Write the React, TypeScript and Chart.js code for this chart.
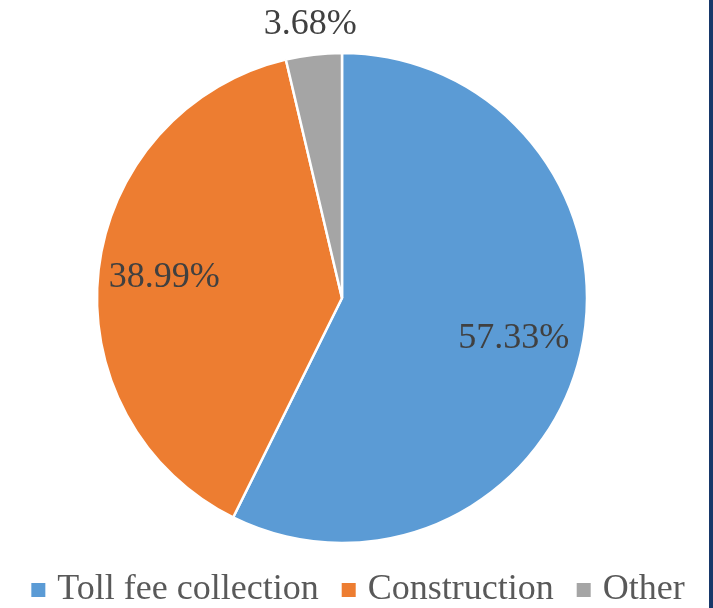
import React, { useEffect, useRef } from "react";
import { Chart, registerables } from "chart.js";

Chart.register(...registerables);

const categories = ["Toll fee collection", "Construction", "Other"];
const shares = [57.33, 38.99, 3.68];
const sliceColors = ["#5b9bd5", "#ed7d31", "#a5a5a5"];
const labelRadius = [0.72, 0.73, 1.125];

const FONT = '36px "Liberation Serif", "Times New Roman", serif';

const pctLabelPlugin = {
  id: "pctLabels",
  afterDatasetsDraw(chart: any) {
    const ctx = chart.ctx;
    const meta = chart.getDatasetMeta(0);
    meta.data.forEach((arc: any, i: number) => {
      const p = arc.getProps(["x", "y", "startAngle", "endAngle", "outerRadius"], true);
      const mid = (p.startAngle + p.endAngle) / 2;
      const r = p.outerRadius * labelRadius[i];
      ctx.save();
      ctx.font = FONT;
      ctx.fillStyle = "#404040";
      ctx.textAlign = "center";
      ctx.textBaseline = "middle";
      ctx.fillText(shares[i].toFixed(2) + "%", p.x + Math.cos(mid) * r, p.y + Math.sin(mid) * r);
      ctx.restore();
    });
  },
};

const legendPlugin = {
  id: "customLegend",
  afterDraw(chart: any) {
    const ctx = chart.ctx;
    ctx.save();
    ctx.font = FONT;
    const box = 14;
    const gap = 12;
    const itemGap = 23;
    const widths = categories.map((c) => ctx.measureText(c).width);
    const total = widths.reduce((a, w) => a + box + gap + w, 0) + itemGap * (categories.length - 1);
    let x = 358 - total / 2;
    categories.forEach((c, i) => {
      ctx.fillStyle = sliceColors[i];
      ctx.fillRect(x, 583, box, box);
      x += box + gap;
      ctx.fillStyle = "#595959";
      ctx.textAlign = "left";
      ctx.textBaseline = "alphabetic";
      ctx.fillText(c, x, 599);
      x += widths[i] + itemGap;
    });
    ctx.restore();
  },
};

export default function App() {
  const ref = useRef<HTMLCanvasElement>(null);
  useEffect(() => {
    if (!ref.current) return;
    const chart = new Chart(ref.current, {
      type: "pie",
      data: {
        labels: categories,
        datasets: [
          {
            data: shares,
            backgroundColor: sliceColors,
            borderColor: "#ffffff",
            borderWidth: 2.5,
          },
        ],
      },
      options: {
        responsive: false,
        animation: false,
        radius: 245,
        layout: { padding: { left: 0, right: 29, top: 52, bottom: 64 } },
        plugins: {
          legend: { display: false },
          tooltip: { enabled: false },
        },
      } as any,
      plugins: [pctLabelPlugin, legendPlugin],
    });
    return () => chart.destroy();
  }, []);
  return (
    <div style={{ position: "fixed", left: 0, top: 0, width: 713, height: 608, background: "#fff" }}>
      <canvas ref={ref} width={713} height={608} style={{ display: "block" }} />
      <div style={{ position: "absolute", left: 709, top: 0, width: 4, height: 608, background: "#17386a" }} />
    </div>
  );
}
